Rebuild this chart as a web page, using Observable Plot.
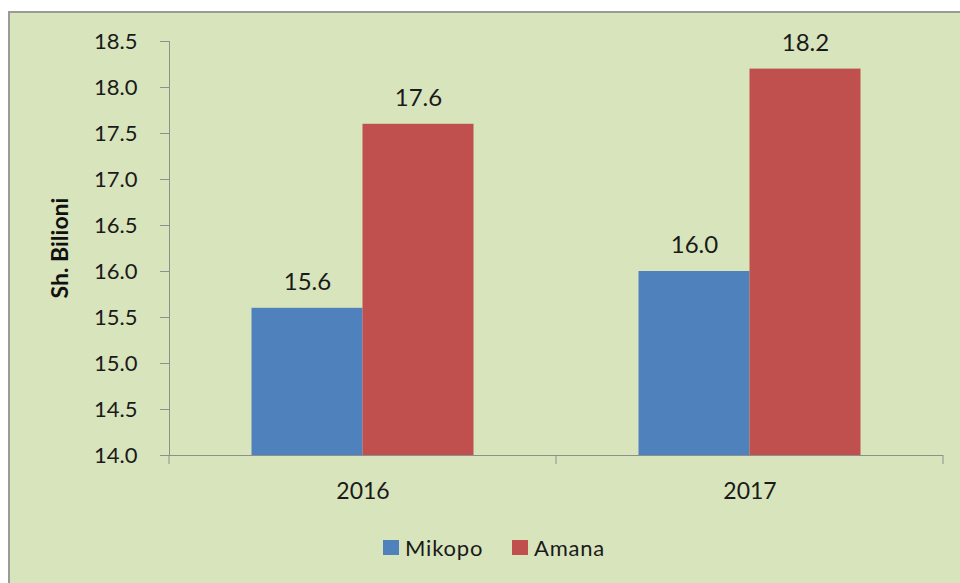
<!DOCTYPE html>
<html>
<head>
<meta charset="utf-8">
<script src="https://cdn.jsdelivr.net/npm/d3@7"></script>
<script src="https://cdn.jsdelivr.net/npm/@observablehq/plot@0.6"></script>
<style>
  html, body { margin: 0; padding: 0; background: #fff; width: 960px; height: 583px; overflow: hidden; }
  #panel { position: absolute; left: 8px; top: 11px; width: 960px; height: 580px; background: #d8e4bc;
           border-left: 2px solid #9a9a9a; border-top: 2px solid #9a9a9a; box-sizing: border-box; }
  #chart { position: absolute; left: 0; top: 0; }
  #ylabel { position: absolute; left: 59px; top: 248px; transform: translate(-50%, -50%) rotate(-90deg);
            font: bold 23px Lato, "Open Sans", sans-serif; color: #111; white-space: nowrap; }
  #legend { position: absolute; left: 383px; top: 534px; display: flex; align-items: center;
            font: 22px Lato, "Open Sans", sans-serif; color: #1a1a1a; letter-spacing: 0.8px; }
  #legend .sw { width: 16px; height: 15px; display: inline-block; margin-right: 6px; }
  #legend .item { display: flex; align-items: center; width: 129px; }
</style>
</head>
<body>
<div id="panel"></div>
<div id="chart"></div>
<div id="ylabel">Sh. Bilioni</div>
<div id="legend"></div>
<script>
// ---- data ----
const years = [2016, 2017];
const series = ["Mikopo", "Amana"];
const mikopo = [15.6, 16.0];
const amana = [17.6, 18.2];
const yTicks = [14.0, 14.5, 15.0, 15.5, 16.0, 16.5, 17.0, 17.5, 18.0, 18.5];
const colors = ["#4f81bd", "#c0504d"];
const yLabel = "Sh. Bilioni";

const yMin = yTicks[0], yMax = yTicks[yTicks.length - 1];
const rows = [];
years.forEach((yr, i) => {
  rows.push({year: yr, series: series[0], value: mikopo[i]});
  rows.push({year: yr, series: series[1], value: amana[i]});
});
const mik = rows.filter(d => d.series === series[0]);
const ama = rows.filter(d => d.series === series[1]);

// boundary ticks on the category axis
function boundaryTicks(index, scales) {
  const x = scales.x, y = scales.y;
  const bw = x.bandwidth();
  const y0 = y(yMin);
  const edges = years.map(d => x(d)).concat([x(years[years.length - 1]) + bw]);
  const g = d3.create("svg:g").attr("stroke", "#8e8e8e").attr("stroke-width", 1);
  for (const e of edges) {
    g.append("line").attr("x1", e).attr("x2", e).attr("y1", y0).attr("y2", y0 + 9);
  }
  return g.node();
}

const font = "Lato, 'Open Sans', sans-serif";
const chart = Plot.plot({
  width: 960,
  height: 512,
  marginTop: 41,
  marginBottom: 57,
  marginLeft: 169,
  marginRight: 17,
  style: {background: "transparent", fontFamily: font, fontSize: "22px", color: "#1a1a1a"},
  x: {domain: years, padding: 0, label: null},
  y: {domain: [yMin, yMax], label: null},
  color: {domain: series, range: colors},
  marks: [
    Plot.barY(mik, {x: "year", y1: () => yMin, y2: "value", fill: colors[0], insetLeft: 82.5, insetRight: 193.5}),
    Plot.barY(ama, {x: "year", y1: () => yMin, y2: "value", fill: colors[1], insetLeft: 193.5, insetRight: 82.5}),
    Plot.text(mik, {x: "year", y: "value", text: d => d.value.toFixed(1), dx: -55.5, dy: -26, fontSize: 24, fill: "#1a1a1a"}),
    Plot.text(ama, {x: "year", y: "value", text: d => d.value.toFixed(1), dx: 55.5, dy: -26, fontSize: 24, fill: "#1a1a1a"}),
    Plot.ruleY([yMin], {stroke: "#8e8e8e"}),
    Plot.frame({anchor: "left", stroke: "#8e8e8e"}),
    Plot.axisY({ticks: yTicks, tickFormat: d => d.toFixed(1), tickSize: 9, tickPadding: 23, stroke: "#8e8e8e", label: null, fontSize: 22}),
    Plot.axisX({tickSize: 0, tickPadding: 27, tickFormat: d => String(d), label: null, fontSize: 23}),
    boundaryTicks
  ]
});
document.getElementById("chart").appendChild(chart);

const legend = d3.select("#legend");
series.forEach((s, i) => {
  const it = legend.append("div").attr("class", "item");
  it.append("span").attr("class", "sw").style("background", colors[i]);
  it.append("span").text(s);
});
</script>
</body>
</html>
